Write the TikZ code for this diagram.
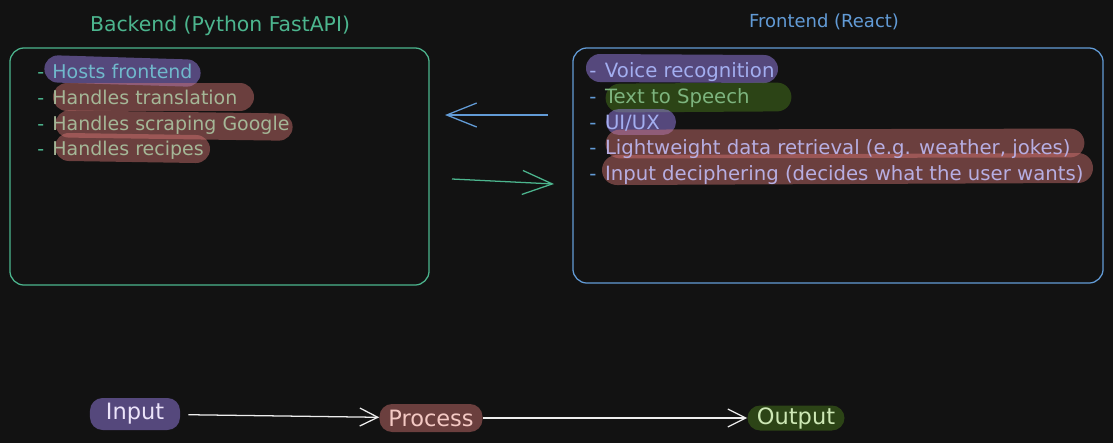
\documentclass[tikz,border=0pt]{standalone}
\usepackage{fontspec}
\setmainfont{DejaVu Sans}
\usepackage{xcolor}
\definecolor{canvasDark}{HTML}{121212}
\definecolor{backendGreen}{HTML}{4CB58E}
\definecolor{frontendBlue}{HTML}{629BD6}
\definecolor{chalkWhite}{HTML}{EDEDED}
% marker colours, laid down at 45% opacity
\definecolor{markPurple}{HTML}{A78AFF}
\definecolor{markRed}{HTML}{D87674}
\definecolor{markGreen}{HTML}{4C811B}
% text colours as they read on the markers
\definecolor{tealOnPurple}{HTML}{70B9CC}
\definecolor{sageOnRed}{HTML}{A5B797}
\definecolor{blueOnPurple}{HTML}{A3AEF0}
\definecolor{greenOnGreen}{HTML}{7DB47E}
\definecolor{lilacOnRed}{HTML}{B7AEE2}
\usepackage{tikz}
\usetikzlibrary{arrows.meta, positioning}
\newcommand{\greendash}{\textcolor{backendGreen}{-}\hspace{0.12em}}
\newcommand{\bluedash}{\textcolor{frontendBlue}{-}\hspace{0.12em}}
\tikzset{
    % Base style for all sketch texts
    sketch base/.style={
        font=\fontsize{13.5}{16}\selectfont,
        inner sep=0pt,
    },
    % Rounded panel frames
    panel/.style={
        rectangle,
        rounded corners=10pt,
        line width=0.9pt,
    },
    % One line of a bullet list
    list item/.style={
        sketch base,
        anchor=west,
        text height=1.6ex,
        text depth=0.45ex,
        minimum height=0.625cm,
    },
    front item/.style={
        list item,
        font=\fontsize{14}{16}\selectfont,
    },
    % Pipeline stages at the bottom
    stage/.style={
        sketch base,
        font=\fontsize{16}{18}\selectfont,
        rounded corners=9pt,
        fill opacity=0.45,
        text opacity=1,
    },
    % Translucent marker strokes under the text
    marker/.style={
        line cap=round,
        draw opacity=0.45,
    },
    % Hand drawn arrow with an open barb
    flow/.style={
        -{Straight Barb[length=0.45cm, width=0.45cm]},
        line width=0.9pt,
    },
    big flow/.style={
        flow,
        -{Straight Barb[length=0.75cm, width=0.6cm]},
    },
}

\begin{document}
\begin{tikzpicture}[x=0.025cm, y=-0.025cm]
    \fill[canvasDark] (0,0) rectangle (1113,443);
    \useasboundingbox (0,0) rectangle (1113,443);

    % panels
    \node (backend) [panel, draw=backendGreen, minimum width=10.475cm, minimum height=5.925cm] at (219.5,166.5) {};
    \node (frontend) [panel, draw=frontendBlue, minimum width=13.25cm, minimum height=5.875cm] at (838,165.5) {};
    \node (backendTitle) [sketch base, font=\fontsize{14.5}{16}\selectfont, text=backendGreen] at (220,26) {Backend (Python FastAPI)};
    \node (frontendTitle) [sketch base, font=\fontsize{12.8}{15}\selectfont, text=frontendBlue] at (824,22) {Frontend (React)};

    % marker strokes
    \draw [marker, markPurple, line width=0.68cm] (58,69) -- (187,73);
    \draw [marker, markRed, line width=0.7cm] (67,97) -- (240,97);
    \draw [marker, markRed, line width=0.68cm] (69,124) -- (279,127);
    \draw [marker, markRed, line width=0.7cm] (69,147) -- (196,149);

    \draw [marker, markPurple, line width=0.7cm] (600,68) -- (764,69);
    \draw [marker, markGreen, line width=0.72cm] (620,98) -- (777,97);
    \draw [marker, markPurple, line width=0.65cm] (619,122) -- (663,122);
    \draw [marker, markRed, line width=0.72cm] (620,144) -- (1070,143);
    \draw [marker, markRed, line width=0.75cm] (617,170) -- (1078,168);

    % backend list
    \node (hosts) [list item, text=tealOnPurple] at (37,74.5) {\greendash{} Hosts frontend};
    \node (translation) [list item, text=sageOnRed, below=0pt of hosts.south west, anchor=north west] {\greendash{} Handles translation};
    \node (scraping) [list item, text=sageOnRed, below=0pt of translation.south west, anchor=north west] {\greendash{} Handles scraping Google};
    \node (recipes) [list item, text=sageOnRed, below=0pt of scraping.south west, anchor=north west] {\greendash{} Handles recipes};

    % frontend list
    \node (voice) [front item, text=blueOnPurple] at (589,73.5) {-\hspace{0.12em} Voice recognition};
    \node (speech) [front item, text=greenOnGreen, below=0pt of voice.south west, anchor=north west] {\bluedash{} Text to Speech};
    \node (uiux) [front item, text=blueOnPurple, below=0pt of speech.south west, anchor=north west] {\bluedash{} UI/UX};
    \node (retrieval) [front item, text=lilacOnRed, below=0pt of uiux.south west, anchor=north west] {\bluedash{} Lightweight data retrieval (e.g. weather, jokes)};
    \node (deciphering) [front item, text=lilacOnRed, below=0pt of retrieval.south west, anchor=north west] {\bluedash{} Input deciphering (decides what the user wants)};

    % traffic between the panels
    \coordinate (toBackStart) at (548,115);
    \coordinate (toBackEnd) at (445,115);
    \coordinate (toFrontStart) at (452,179);
    \coordinate (toFrontEnd) at (554,184);
    \draw [big flow, frontendBlue] (toBackStart) -- (toBackEnd);
    \draw [big flow, backendGreen] (toFrontStart) -- (toFrontEnd);

    % pipeline
    \node (input) [stage, fill=markPurple, text={rgb,255:red,236;green,228;blue,250}, minimum width=2.25cm, minimum height=0.8cm] at (135,414) {Input};
    \node (process) [stage, fill=markRed, text={rgb,255:red,244;green,201;blue,196}, minimum width=2.575cm, minimum height=0.7cm] at (431,418) {Process};
    \node (output) [stage, fill=markGreen, text={rgb,255:red,205;green,232;blue,181}, minimum width=2.425cm, minimum height=0.625cm] at (796,418) {Output};

    \draw [flow, chalkWhite, shorten <=0.2cm] (input) -- (process);
    \draw [flow, chalkWhite] (process) -- (output);
\end{tikzpicture}
\end{document}
